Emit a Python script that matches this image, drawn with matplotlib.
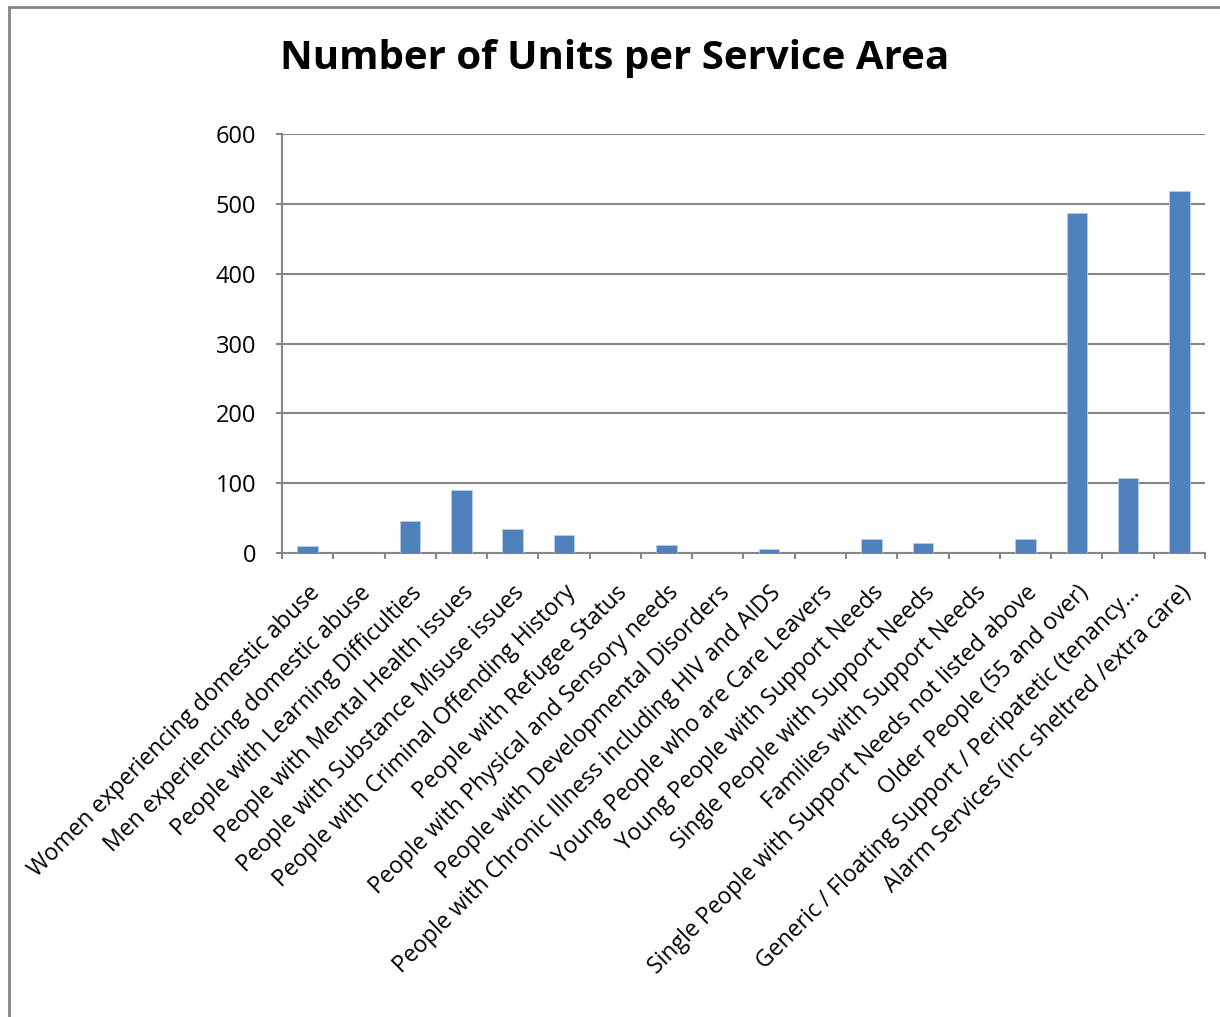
import matplotlib.pyplot as plt
from matplotlib.lines import Line2D

# Data
categories = [
    "Women experiencing domestic abuse",
    "Men experiencing domestic abuse",
    "People with Learning Difficulties",
    "People with Mental Health issues",
    "People with Substance Misuse issues",
    "People with Criminal Offending History",
    "People with Refugee Status",
    "People with Physical and Sensory needs",
    "People with Developmental Disorders",
    "People with Chronic Illness including HIV and AIDS",
    "Young People who are Care Leavers",
    "Young People with Support Needs",
    "Single People with Support Needs",
    "Families with Support Needs",
    "Single People with Support Needs not listed above",
    "Older People (55 and over)",
    "Generic / Floating Support / Peripatetic (tenancy\u2026",
    "Alarm Services (inc sheltred /extra care)",
]
units = [10, 0, 46, 90, 35, 26, 0, 11, 0, 6, 0, 20, 15, 0, 20, 487, 107, 518]
y_ticks = [0, 100, 200, 300, 400, 500, 600]

plt.rcParams['font.family'] = ['Open Sans', 'DejaVu Sans']
grey = '#868686'

fig = plt.figure(figsize=(12.2, 10.17), dpi=100)
ax = fig.add_axes([0.2311, 0.4562, 0.7566, 0.412])

x = list(range(len(categories)))
ax.bar(x, units, width=0.4, color='#4F81BD', edgecolor='#B9CDE5', linewidth=0.6, zorder=3)

ax.set_xlim(-0.5, len(categories) - 0.5)
ax.set_ylim(0, 600)
ax.set_yticks(y_ticks)
ax.set_yticklabels([str(v) for v in y_ticks], fontsize=17)
ax.yaxis.grid(True, color=grey, linewidth=1.5, zorder=0)

# ticks between categories, labels at category centres
ax.set_xticks([i - 0.5 for i in range(len(categories) + 1)])
ax.set_xticklabels([])
ax.set_xticks(x, minor=True)
ax.set_xticklabels(categories, minor=True, rotation=45, ha='right',
                   rotation_mode='anchor', fontsize=16.6)
ax.tick_params(axis='x', which='minor', length=0, pad=20)
ax.tick_params(axis='x', which='major', length=4.5, width=1.5, color=grey, direction='out')
ax.tick_params(axis='y', length=4.5, width=1.5, color=grey, direction='out', pad=14)

for s in ['top', 'right']:
    ax.spines[s].set_visible(False)
for s in ['left', 'bottom']:
    ax.spines[s].set_color(grey)
    ax.spines[s].set_linewidth(1.5)

fig.text(0.504, 0.942, "Number of Units per Service Area", ha='center', va='center',
         fontsize=29, fontweight='bold')

# chart frame (extends past the image on the right and bottom)
fx = 8.5 / 1220
fy = 1 - 6.5 / 1017
fig.add_artist(Line2D([fx, fx], [0, fy], color=grey, linewidth=2, transform=fig.transFigure))
fig.add_artist(Line2D([fx, 1], [fy, fy], color=grey, linewidth=2, transform=fig.transFigure))

fig.savefig('out.png', dpi=100)
